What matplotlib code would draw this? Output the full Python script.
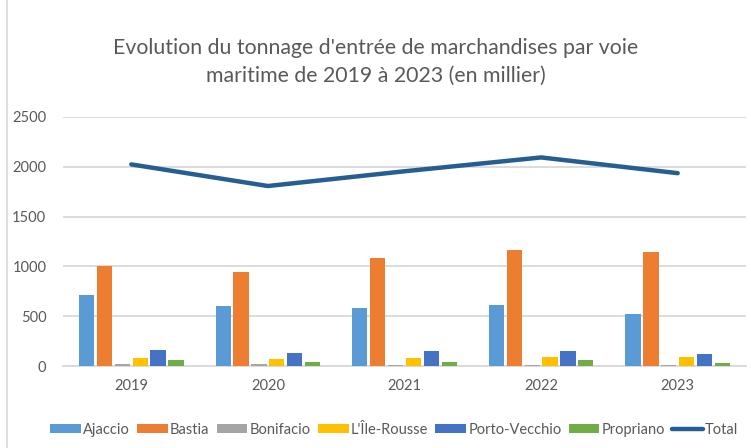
import matplotlib
matplotlib.use("Agg")
import matplotlib.pyplot as plt
import numpy as np
from matplotlib.lines import Line2D

years = ["2019", "2020", "2021", "2022", "2023"]
ajaccio = [710, 607, 587, 617, 527]
bastia = [1000, 943, 1083, 1165, 1147]
bonifacio = [17, 17, 15, 15, 15]
ile_rousse = [80, 70, 80, 90, 90]
porto_vecchio = [157, 127, 147, 147, 117]
propriano = [60, 43, 43, 60, 30]
total = [2024, 1807, 1955, 2094, 1936]

series_names = ["Ajaccio", "Bastia", "Bonifacio", "L'Île-Rousse", "Porto-Vecchio", "Propriano"]
series_vals = [ajaccio, bastia, bonifacio, ile_rousse, porto_vecchio, propriano]
colors = ["#5B9BD5", "#ED7D31", "#A5A5A5", "#FFC000", "#4472C4", "#70AD47"]
line_color = "#255E91"
txt = "#595959"

plt.rcParams['font.family'] = ['Lato', 'DejaVu Sans']

fig = plt.figure(figsize=(7.51, 4.48), dpi=100)
W, H = 751, 448
ax = fig.add_axes([63 / W, 1 - 366 / H, (746 - 63) / W, (366 - 117) / H])

x = np.arange(len(years))
pitch = 0.131
bw = 0.112
handles = []
for i, (name, vals, c) in enumerate(zip(series_names, series_vals, colors)):
    b = ax.bar(x + (i - 2.5) * pitch, vals, width=bw, color=c, label=name, zorder=3)
    handles.append(b)
ln, = ax.plot(x, total, color=line_color, lw=3.2, label="Total", zorder=4, solid_capstyle='round')
handles.append(ln)

ax.set_xlim(-0.5, len(years) - 0.5)
ax.set_ylim(0, 2500)
ax.set_yticks(range(0, 2501, 500))
ax.set_xticks(x)
ax.set_xticklabels(years)
ax.grid(axis='y', color='#D9D9D9', lw=1.3, zorder=0)
for s in ['top', 'right', 'left']:
    ax.spines[s].set_visible(False)
ax.spines['bottom'].set_color('#D9D9D9')
ax.spines['bottom'].set_linewidth(1.3)
ax.tick_params(axis='both', length=0, labelsize=10.5, colors=txt)
ax.tick_params(axis='y', pad=12)
ax.tick_params(axis='x', pad=9)

fig.text(0.5, 1 - 62 / H, "Evolution du tonnage d'entrée de marchandises par voie\nmaritime de 2019 à 2023 (en millier)",
         ha='center', va='center', fontsize=15.3, color=txt, linespacing=1.5)

labels = series_names + ["Total"]
leg = fig.legend(handles, labels, loc='center', bbox_to_anchor=(0.525, 1 - 430 / H), ncol=7,
                 frameon=False, fontsize=10.5, handlelength=2.1, handleheight=0.55,
                 handletextpad=0.15, columnspacing=0.5, labelcolor=txt)

fig.add_artist(Line2D([7 / W, 7 / W], [0, 1], transform=fig.transFigure, color='#D9D9D9', lw=1.2))

fig.savefig("out.png", dpi=100)
